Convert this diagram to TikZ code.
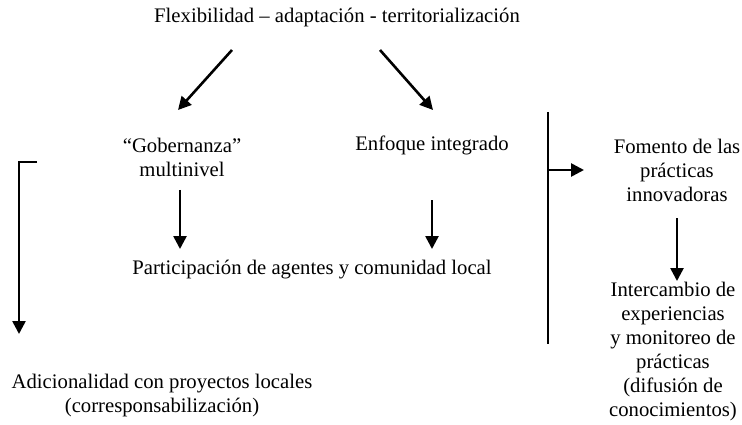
\documentclass[tikz,border=0pt]{standalone}
\usepackage{fontspec}
\setmainfont{Liberation Serif}
\usetikzlibrary{arrows.meta}
\tikzset{
  lbl/.style={align=center, inner sep=0pt, font=\fontsize{20.7}{24}\selectfont},
  arr/.style={line width=2.6pt, -{Triangle[length=13pt,width=13pt]}},
  bar/.style={line width=2.6pt}
}
\begin{document}
\begin{tikzpicture}[x=1pt,y=-1pt]
\useasboundingbox[fill=white] (0,0) rectangle (742,425);
\node[lbl] (top) at (337,18) {Flexibilidad – adaptación - territorialización};
\node[lbl] (gob) at (182,157) {“Gobernanza”\\multinivel};
\node[lbl] (enf) at (432,145) {Enfoque integrado};
\node[lbl] (par) at (312,270) {Participación de agentes y comunidad local};
\node[lbl] (adi) at (162,396) {Adicionalidad con proyectos locales\\(corresponsabilización)};
\node[lbl] (fom) at (677,170) {Fomento de las\\prácticas\\innovadoras};
\node[lbl] (int) at (673,352) {Intercambio de\\experiencias\\y monitoreo de\\prácticas\\(difusión de\\conocimientos)};
% arrow end points
\coordinate (d1s) at (232,50); \coordinate (d1e) at (178,110);
\coordinate (d2s) at (380,50); \coordinate (d2e) at (433,110);
\coordinate (v1s) at (180,190); \coordinate (v1e) at (180,249);
\coordinate (v2s) at (432,200); \coordinate (v2e) at (432,249);
\coordinate (bk0) at (37,162); \coordinate (bk1) at (19,162); \coordinate (bk2) at (19,334);
\coordinate (vbT) at (548,112); \coordinate (vbB) at (548,344);
\coordinate (hs) at (548,170); \coordinate (he) at (584,170);
\coordinate (v3s) at (677,218); \coordinate (v3e) at (677,281);
\draw[arr] (d1s) -- (d1e);
\draw[arr] (d2s) -- (d2e);
\draw[arr] (v1s) -- (v1e);
\draw[arr] (v2s) -- (v2e);
\draw[arr] (bk0) -- (bk1) -- (bk2);
\draw[bar] (vbT) -- (vbB);
\draw[arr] (hs) -- (he);
\draw[arr] (v3s) -- (v3e);
\end{tikzpicture}
\end{document}
